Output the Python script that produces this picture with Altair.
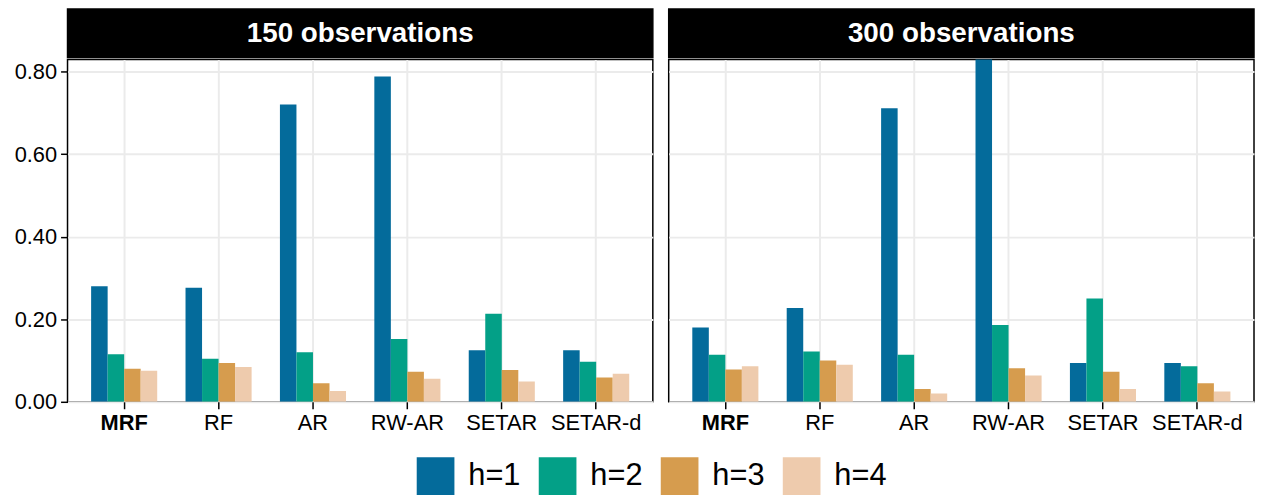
import altair as alt
import pandas as pd

models = ["MRF", "RF", "AR", "RW-AR", "SETAR", "SETAR-d"]
horizons = ["h=1", "h=2", "h=3", "h=4"]
panels = ["150 observations", "300 observations"]
colors = ["#046B9B", "#03A087", "#D69C4E", "#EECBAD"]

# 150 observations
obs150_h1 = [0.280, 0.276, 0.720, 0.788, 0.125, 0.125]
obs150_h2 = [0.115, 0.104, 0.120, 0.152, 0.213, 0.097]
obs150_h3 = [0.080, 0.094, 0.045, 0.073, 0.077, 0.059]
obs150_h4 = [0.075, 0.084, 0.026, 0.056, 0.049, 0.068]
# 300 observations
obs300_h1 = [0.180, 0.227, 0.711, 0.900, 0.094, 0.094]
obs300_h2 = [0.114, 0.122, 0.114, 0.186, 0.250, 0.086]
obs300_h3 = [0.078, 0.100, 0.031, 0.081, 0.073, 0.045]
obs300_h4 = [0.086, 0.090, 0.020, 0.064, 0.031, 0.025]

series = {
    panels[0]: [obs150_h1, obs150_h2, obs150_h3, obs150_h4],
    panels[1]: [obs300_h1, obs300_h2, obs300_h3, obs300_h4],
}

FONT = "Liberation Sans"
W = 590
H = 345
STRIP = 49


def make_df(panel):
    rows = []
    for h, vals in zip(horizons, series[panel]):
        for m, v in zip(models, vals):
            rows.append({"model": m, "h": h, "value": v})
    return pd.DataFrame(rows)


def make_panel(panel, show_y):
    df = make_df(panel)
    if show_y:
        yaxis = alt.Axis(
            values=[0, 0.2, 0.4, 0.6, 0.8], format=".2f", title=None,
            labelFont=FONT, labelFontSize=22, labelColor="black",
            tickColor="black", tickSize=7, tickWidth=1.5, labelPadding=4,
            domain=False, grid=True, gridColor="#EBEBEB", gridWidth=2,
        )
    else:
        yaxis = alt.Axis(
            values=[0, 0.2, 0.4, 0.6, 0.8], title=None, labels=False,
            ticks=False, domain=False, grid=True, gridColor="#EBEBEB",
            gridWidth=2, labelPadding=0, minExtent=0, maxExtent=0,
        )
    bars = alt.Chart(df).mark_bar(clip=True).encode(
        x=alt.X(
            "model:N", sort=models,
            scale=alt.Scale(paddingInner=0, paddingOuter=0.1),
            axis=alt.Axis(
                title=None, labelAngle=0, labelFont=FONT, labelFontSize=22,
                labelColor="black", tickColor="black", tickSize=7,
                tickWidth=1.5, labelPadding=4, domain=False,
                grid=True, gridColor="#EBEBEB", gridWidth=2,
                bandPosition=0.5,
                labelFontWeight=alt.expr("datum.value == 'MRF' ? 'bold' : 'normal'"),
            ),
        ),
        xOffset=alt.XOffset(
            "h:N", sort=horizons,
            scale=alt.Scale(paddingInner=0, paddingOuter=0.857),
        ),
        y=alt.Y(
            "value:Q",
            scale=alt.Scale(domain=[0, 0.829], nice=False, zero=True),
            axis=yaxis,
        ),
        color=alt.Color(
            "h:N", sort=horizons,
            scale=alt.Scale(domain=horizons, range=colors),
            legend=alt.Legend(
                title=None, orient="none", direction="horizontal",
                legendX=352, legendY=452,
                symbolType="square", symbolSize=1444, symbolStrokeWidth=0,
                symbolOpacity=1, labelFont=FONT, labelFontSize=31,
                labelColor="black", labelOffset=14, columnPadding=18,
            ),
        ),
    ).properties(
        width=W, height=H,
        view=alt.ViewBackground(stroke="black", strokeWidth=1.5),
    )

    strip_df = pd.DataFrame({"t": [panel]})
    strip_bg = alt.Chart(strip_df).mark_rect(color="black").encode(
        x=alt.value(0), x2=alt.value(W), y=alt.value(0), y2=alt.value(STRIP)
    )
    strip_txt = alt.Chart(strip_df).mark_text(
        font=FONT, fontSize=28, fontWeight="bold", color="white",
        align="center", baseline="middle",
    ).encode(text="t:N", x=alt.value(W / 2), y=alt.value(STRIP / 2 + 1))
    strip = (strip_bg + strip_txt).properties(
        width=W, height=STRIP,
        view=alt.ViewBackground(stroke="black", strokeWidth=1.5),
    )
    return alt.vconcat(strip, bars, spacing=0)


chart = alt.hconcat(
    make_panel(panels[0], True), make_panel(panels[1], False), spacing=14
).properties(
    padding={"left": 5, "top": -2, "right": 0, "bottom": 0},
).configure(
    font=FONT,
).resolve_scale(color="shared")

chart.save("out.html", embed_options={"renderer": "svg", "actions": False})
